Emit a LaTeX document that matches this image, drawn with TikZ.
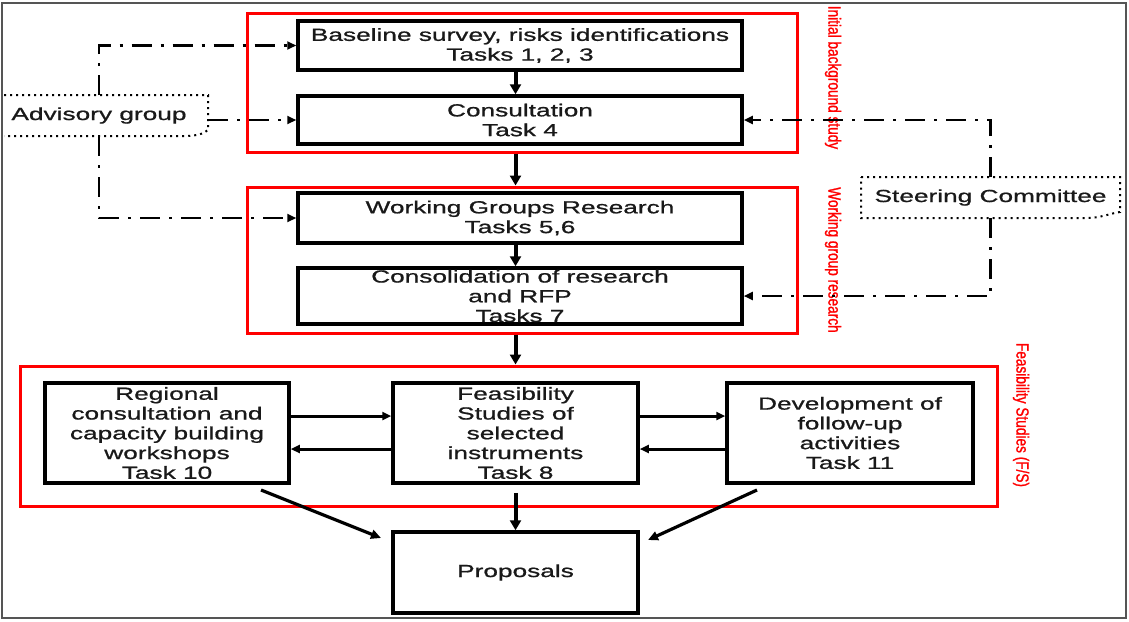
\documentclass[tikz,border=0pt]{standalone}
\usepackage{fontspec}
\setmainfont{Liberation Sans}
\newfontfamily\boxfont[FakeStretch=1.5,FakeBold=0.9]{Liberation Sans}
\newfontfamily\lblfont[FakeStretch=0.78,FakeBold=1.2]{Liberation Sans}
\usetikzlibrary{arrows.meta,calc}
\definecolor{redline}{RGB}{255,0,0}
\definecolor{framegray}{RGB}{85,85,85}
\definecolor{txt}{RGB}{25,25,25}
\begin{document}
\begin{tikzpicture}[x=1pt,y=-1pt,
  tbox/.style={draw=black, line width=3.5pt, inner sep=0pt, align=center,
    font=\boxfont\fontsize{17.5}{19.75}\selectfont, text=txt},
  rbox/.style={draw=redline, line width=3pt, inner sep=0pt},
  rlabel/.style={text=redline, font=\lblfont\fontsize{17.5}{19}\selectfont, rotate=-90, inner sep=0pt},
  plain/.style={inner sep=0pt, outer sep=0pt, font=\boxfont\fontsize{17.5}{19.75}\selectfont, text=txt},
  thickarrow/.style={line width=4pt, -{Triangle[length=10pt,width=11pt]}},
  harrow/.style={line width=3pt, -{Triangle[length=9pt,width=8pt]}},
  diagarrow/.style={line width=3.2pt, -{Triangle[length=10pt,width=9pt]}},
  dashdot/.style={line width=2.2pt, dash pattern=on 20pt off 9pt on 3pt off 9pt, -{Triangle[length=9pt,width=8pt]}},
  dotbox/.style={line width=2pt, dash pattern=on 2pt off 4pt},
]
\useasboundingbox (0,0) rectangle (1129,621);
\fill[white] (0,0) rectangle (1129,621);
\draw[framegray, line width=2pt] (2,3) rectangle (1126,618);

% red group frames
\node[rbox, minimum width=550pt, minimum height=139pt] (r1) at (522,82.5) {};
\node[rbox, minimum width=550pt, minimum height=146pt] (r2) at (522,260) {};
\node[rbox, minimum width=977pt, minimum height=140pt] (r3) at (508.5,436) {};

% red labels
\node[rlabel] (l1) at (833,77.5) {Initial background study};
\node[rlabel] (l2) at (833,260) {Working group research};
\node[rlabel] (l3) at (1021,415) {Feasibility Studies (F/S)};

% task boxes
\node[tbox, minimum width=444pt, minimum height=49pt] (base) at (520,45.5)
  {Baseline survey, risks identifications\\Tasks 1, 2, 3};
\node[tbox, minimum width=444pt, minimum height=48pt] (cons) at (520,120)
  {Consultation\\Task 4};
\node[tbox, minimum width=444pt, minimum height=50pt] (wg) at (520,218)
  {Working Groups Research\\Tasks 5,6};
\node[tbox, minimum width=444pt, minimum height=56pt] (csl) at (520,296)
  {Consolidation of research\\and RFP\\Tasks 7};
\node[tbox, minimum width=244pt, minimum height=100pt] (reg) at (167,433)
  {Regional\\consultation and\\capacity building\\workshops\\Task 10};
\node[tbox, minimum width=245pt, minimum height=100pt] (fe) at (515.5,433)
  {Feasibility\\Studies of\\selected\\instruments\\Task 8};
\node[tbox, minimum width=246pt, minimum height=100pt] (dev) at (850,433)
  {Development of\\follow-up\\activities\\Task 11};
\node[tbox, minimum width=245pt, minimum height=81pt] (prop) at (515.5,572.5)
  {Proposals};

% advisory group and steering committee
\node[plain, minimum width=218pt, minimum height=41pt] (adv) at (99,115.5) {Advisory group};
\draw[dotbox] (4,95) -- (208,95) -- (208,130) .. controls (204,134) and (195,136) .. (185,136) -- (4,136);
\node[plain, minimum width=259pt, minimum height=41pt] (stc) at (990.5,197.5) {Steering Committee};
\draw[dotbox] (861,177) -- (1120,177) -- (1120,212) .. controls (1112,213) and (1100,218) .. (1088,218) -- (861,218) -- cycle;

% main flow arrows
\draw[thickarrow] (base.south -| fe.north) -- (cons.north -| fe.north);
\draw[thickarrow] (r1.south -| fe.north) -- (r2.north -| fe.north);
\draw[thickarrow] (wg.south -| fe.north) -- (csl.north -| fe.north);
\draw[thickarrow] (r2.south -| fe.north) -- (r3.north -| fe.north);
\draw[thickarrow] ([yshift=-8pt]fe.south) -- (prop.north);

% horizontal arrows
\draw[harrow] ([yshift=17pt]reg.east) -- ([yshift=17pt]fe.west);
\draw[harrow] ([yshift=-16pt]fe.west) -- ([yshift=-16pt]reg.east);
\draw[harrow] ([yshift=17pt]fe.east) -- ([yshift=17pt]dev.west);
\draw[harrow] ([yshift=-16pt]dev.west) -- ([yshift=-16pt]fe.east);

% diagonal arrows to proposals
\coordinate (d1s) at (261,490);
\coordinate (d1e) at (381,538);
\coordinate (d2s) at (757,490);
\coordinate (d2e) at (648,540);
\draw[diagarrow] (d1s) -- (d1e);
\draw[diagarrow] (d2s) -- (d2e);

% dash-dot connectors
\draw[dashdot] (adv.north) |- (base.west);
\draw[dashdot] (adv.east |- cons.west) -- (cons.west);
\draw[dashdot] (adv.south) |- (wg.west);
\draw[dashdot] (stc.north) |- (cons.east);
\draw[dashdot] (stc.south) |- (csl.east);
\end{tikzpicture}
\end{document}
